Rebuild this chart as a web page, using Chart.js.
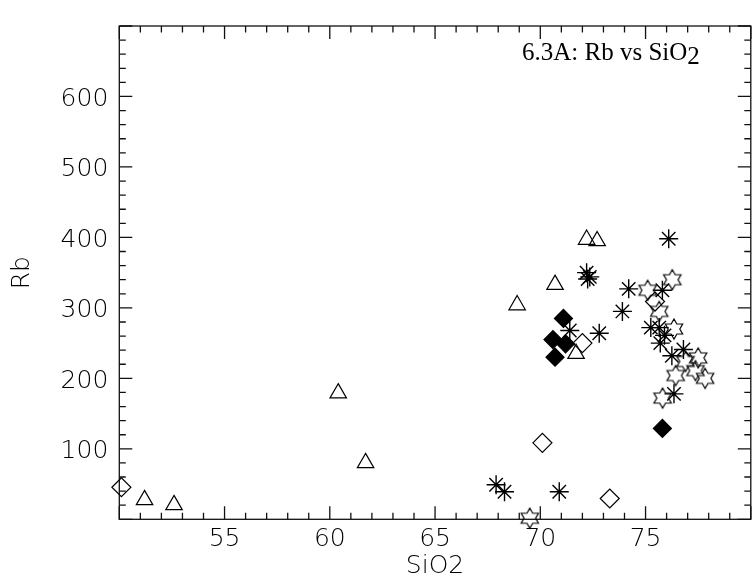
<!DOCTYPE html>
<html lang="en">
<head>
  <meta charset="UTF-8" />
  <title>Rb vs SiO2</title>
  <script src="https://cdn.jsdelivr.net/npm/chart.js"></script>
  <style>
    html, body { margin: 0; padding: 0; background: #fff; overflow: hidden; }
    canvas { display: block; }
  </style>
</head>
<body>
  <canvas id="chart" width="762" height="583"></canvas>

  <script>
    // SiO2 (x) and Rb (y) per sample group
    const triSiO2 = [51.2, 52.6, 60.4, 61.7, 68.9, 70.7, 72.2, 72.7, 71.7];
    const triRb   = [27.5, 20.5, 179, 80, 304, 333, 397, 395, 235];

    const openDiaSiO2 = [50.1, 70.1, 73.3, 72.0, 75.45];
    const openDiaRb   = [45.5, 108.5, 29.5, 250, 309];

    const fillDiaSiO2 = [71.1, 70.6, 71.2, 70.7, 75.8];
    const fillDiaRb   = [285, 255, 249, 230, 129];

    const astSiO2 = [67.9, 68.3, 70.9, 72.2, 72.35, 72.25, 71.4, 72.8, 74.2, 73.9, 76.1, 75.8, 75.25, 75.65, 75.9, 75.7, 76.25, 76.8, 76.35];
    const astRb   = [49, 39, 39, 350, 344, 341, 268, 264, 327, 295, 398, 325, 272, 272, 261, 250, 232, 241, 178];

    const starSiO2 = [69.5, 75.1, 76.27, 75.65, 76.35, 77.5, 77.37, 77.83, 76.9, 76.43, 75.81];
    const starRb   = [1.5, 325, 340, 295, 270, 229, 211, 200, 224, 204, 172];

    const xTicks = [55, 60, 65, 70, 75];
    const yTicks = [100, 200, 300, 400, 500, 600];

    const toPoints = (xs, ys) => xs.map((x, i) => ({ x, y: ys[i] }));

    // six-pointed open star used as a point style
    function hexagram(r) {
      const c = document.createElement('canvas');
      const s = Math.ceil(2 * r + 4);
      c.width = s; c.height = s;
      const g = c.getContext('2d');
      g.translate(s / 2, s / 2);
      const ri = r / Math.sqrt(3);
      g.beginPath();
      for (let i = 0; i < 12; i++) {
        const a = -Math.PI / 2 + i * Math.PI / 6;
        const rr = i % 2 ? ri : r;
        const px = Math.cos(a) * rr, py = Math.sin(a) * rr;
        if (i === 0) g.moveTo(px, py); else g.lineTo(px, py);
      }
      g.closePath();
      g.lineWidth = 1.2;
      g.strokeStyle = '#000';
      g.stroke();
      return c;
    }

    const tickFont = { family: "'DejaVu Sans', sans-serif", size: 25, weight: '200' };

    // box with inward major/minor ticks on all four sides, plus the label
    const framePlugin = {
      id: 'frame',
      beforeDatasetsDraw(chart) {
        const { ctx, chartArea: a, scales: { x, y } } = chart;
        ctx.save();
        ctx.strokeStyle = '#111';
        ctx.lineWidth = 1.3;
        ctx.strokeRect(a.left, a.top, a.right - a.left, a.bottom - a.top);
        ctx.beginPath();
        for (let v = x.min; v <= x.max; v += 1) {
          const px = x.getPixelForValue(v);
          const len = v % 5 === 0 ? 13 : 6.5;
          ctx.moveTo(px, a.bottom); ctx.lineTo(px, a.bottom - len);
          ctx.moveTo(px, a.top); ctx.lineTo(px, a.top + len);
        }
        for (let v = y.min; v <= y.max; v += 20) {
          const py = y.getPixelForValue(v);
          const len = v % 100 === 0 ? 13 : 6.5;
          ctx.moveTo(a.left, py); ctx.lineTo(a.left + len, py);
          ctx.moveTo(a.right, py); ctx.lineTo(a.right - len, py);
        }
        ctx.stroke();
        ctx.restore();
      },
      afterDraw(chart) {
        const { ctx } = chart;
        ctx.save();
        ctx.fillStyle = '#000';
        ctx.textBaseline = 'alphabetic';
        ctx.font = "25px 'Liberation Serif', serif";
        const main = '6.3A: Rb vs SiO';
        const tx = 522, ty = 60;
        ctx.fillText(main, tx, ty);
        const w = ctx.measureText(main).width;
        ctx.fillText('2', tx + w, ty + 3.5);
        ctx.restore();
      }
    };

    const common = { pointBorderColor: '#000', pointBorderWidth: 1.2, showLine: false, clip: false };

    new Chart(document.getElementById('chart'), {
      type: 'scatter',
      data: {
        datasets: [
          { ...common, label: 'tri', data: toPoints(triSiO2, triRb), pointStyle: 'triangle', pointRadius: 9.5, pointBackgroundColor: 'rgba(0,0,0,0)' },
          { ...common, label: 'openDia', data: toPoints(openDiaSiO2, openDiaRb), pointStyle: 'rectRot', pointRadius: 9.5, pointBackgroundColor: 'rgba(0,0,0,0)' },
          { ...common, label: 'fillDia', data: toPoints(fillDiaSiO2, fillDiaRb), pointStyle: 'rectRot', pointRadius: 9, pointBackgroundColor: '#000' },
          { ...common, label: 'ast', data: toPoints(astSiO2, astRb), pointStyle: 'star', pointRadius: 9.5, pointBorderWidth: 1.4, pointBackgroundColor: 'rgba(0,0,0,0)' },
          { ...common, label: 'star', data: toPoints(starSiO2, starRb), pointStyle: hexagram(10), pointRadius: 10 }
        ]
      },
      options: {
        responsive: false,
        animation: false,
        devicePixelRatio: 1,
        layout: { padding: { top: 7.3, right: 2.5, left: 0, bottom: 0 } },
        plugins: { legend: { display: false }, tooltip: { enabled: false } },
        scales: {
          x: {
            type: 'linear', min: 50, max: 80,
            afterFit(s) { s.height = 63.7; },
            afterBuildTicks(s) { s.ticks = [50, ...xTicks, 80].map(value => ({ value })); },
            grid: { display: false, drawTicks: false },
            border: { display: false },
            ticks: {
              autoSkip: false, maxRotation: 0, padding: 5, color: '#000', font: tickFont,
              callback: v => xTicks.includes(v) ? String(v) : ''
            },
            title: { display: true, text: 'SiO2', color: '#000', font: tickFont, padding: { top: 0, bottom: 2 } }
          },
          y: {
            type: 'linear', min: 0, max: 700,
            afterFit(s) { s.width = 119.3; },
            afterBuildTicks(s) { s.ticks = [0, ...yTicks, 700].map(value => ({ value })); },
            grid: { display: false, drawTicks: false },
            border: { display: false },
            ticks: {
              autoSkip: false, padding: 11, labelOffset: 3, color: '#000', font: tickFont,
              callback: v => yTicks.includes(v) ? String(v) : ''
            },
            title: { display: true, text: 'Rb', color: '#000', font: tickFont, padding: { top: 7, bottom: 0 } }
          }
        }
      },
      plugins: [framePlugin]
    });
  </script>
</body>
</html>
